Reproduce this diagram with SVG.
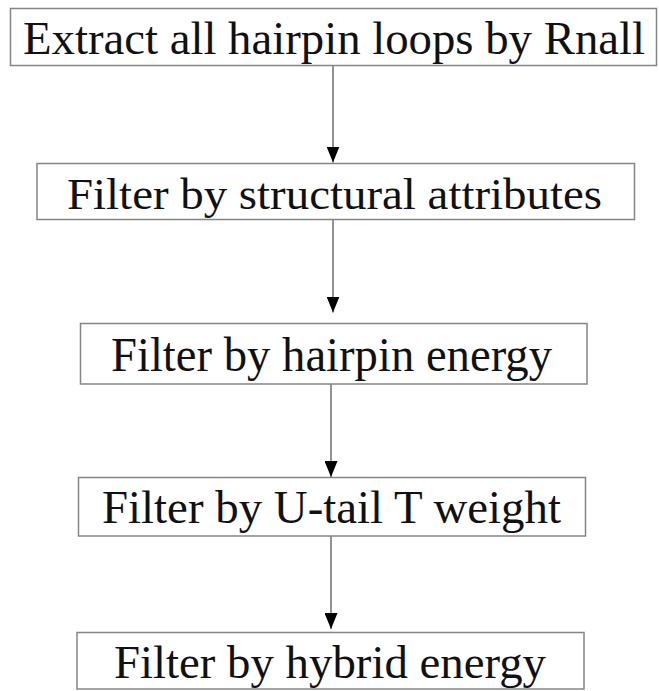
<svg xmlns="http://www.w3.org/2000/svg" width="659" height="691" viewBox="0 0 659 691">
<style>
.box{fill:#ffffff;stroke:#858585;stroke-width:1.5}
.lbl{font-family:"Liberation Serif","Times New Roman",serif;fill:#111111;text-anchor:start}
.conn{stroke:#6e6e6e;stroke-width:1.5;fill:none;marker-end:url(#ah)}
</style>
<defs>
<marker id="ah" viewBox="0 0 16 13" refX="16" refY="6.5" markerWidth="16" markerHeight="13" markerUnits="userSpaceOnUse" orient="auto">
<path d="M0,0 L16,6.5 L0,13 Z" fill="#000000"/>
</marker>
</defs>
<rect width="659" height="691" fill="#ffffff"/>
<g id="connectors">
<line class="conn" x1="333" y1="66" x2="333" y2="162.5"/>
<line class="conn" x1="333" y1="220" x2="333" y2="312.5"/>
<line class="conn" x1="331" y1="384" x2="331" y2="477"/>
<line class="conn" x1="331" y1="536" x2="331" y2="629"/>
</g>
<g id="n1">
<rect class="box" x="10.5" y="8.5" width="646" height="57"/>
<text class="lbl" x="23" y="54" font-size="46" textLength="622" lengthAdjust="spacingAndGlyphs">Extract all hairpin loops by Rnall</text>
</g>
<g id="n2">
<rect class="box" x="37" y="163.5" width="597.5" height="56"/>
<text class="lbl" x="67" y="208.5" font-size="45" textLength="535" lengthAdjust="spacingAndGlyphs">Filter by structural attributes</text>
</g>
<g id="n3">
<rect class="box" x="80.5" y="323.5" width="506.5" height="60.5"/>
<text class="lbl" x="111" y="370.5" font-size="48" textLength="441" lengthAdjust="spacingAndGlyphs">Filter by hairpin energy</text>
</g>
<g id="n4">
<rect class="box" x="78.5" y="477.5" width="507" height="58.5"/>
<text class="lbl" x="102" y="523" font-size="46" textLength="459" lengthAdjust="spacingAndGlyphs">Filter by U-tail T weight</text>
</g>
<g id="n5">
<rect class="box" x="77" y="632.5" width="507" height="56.5"/>
<text class="lbl" x="114" y="677.5" font-size="47" textLength="432" lengthAdjust="spacingAndGlyphs">Filter by hybrid energy</text>
</g>
</svg>
